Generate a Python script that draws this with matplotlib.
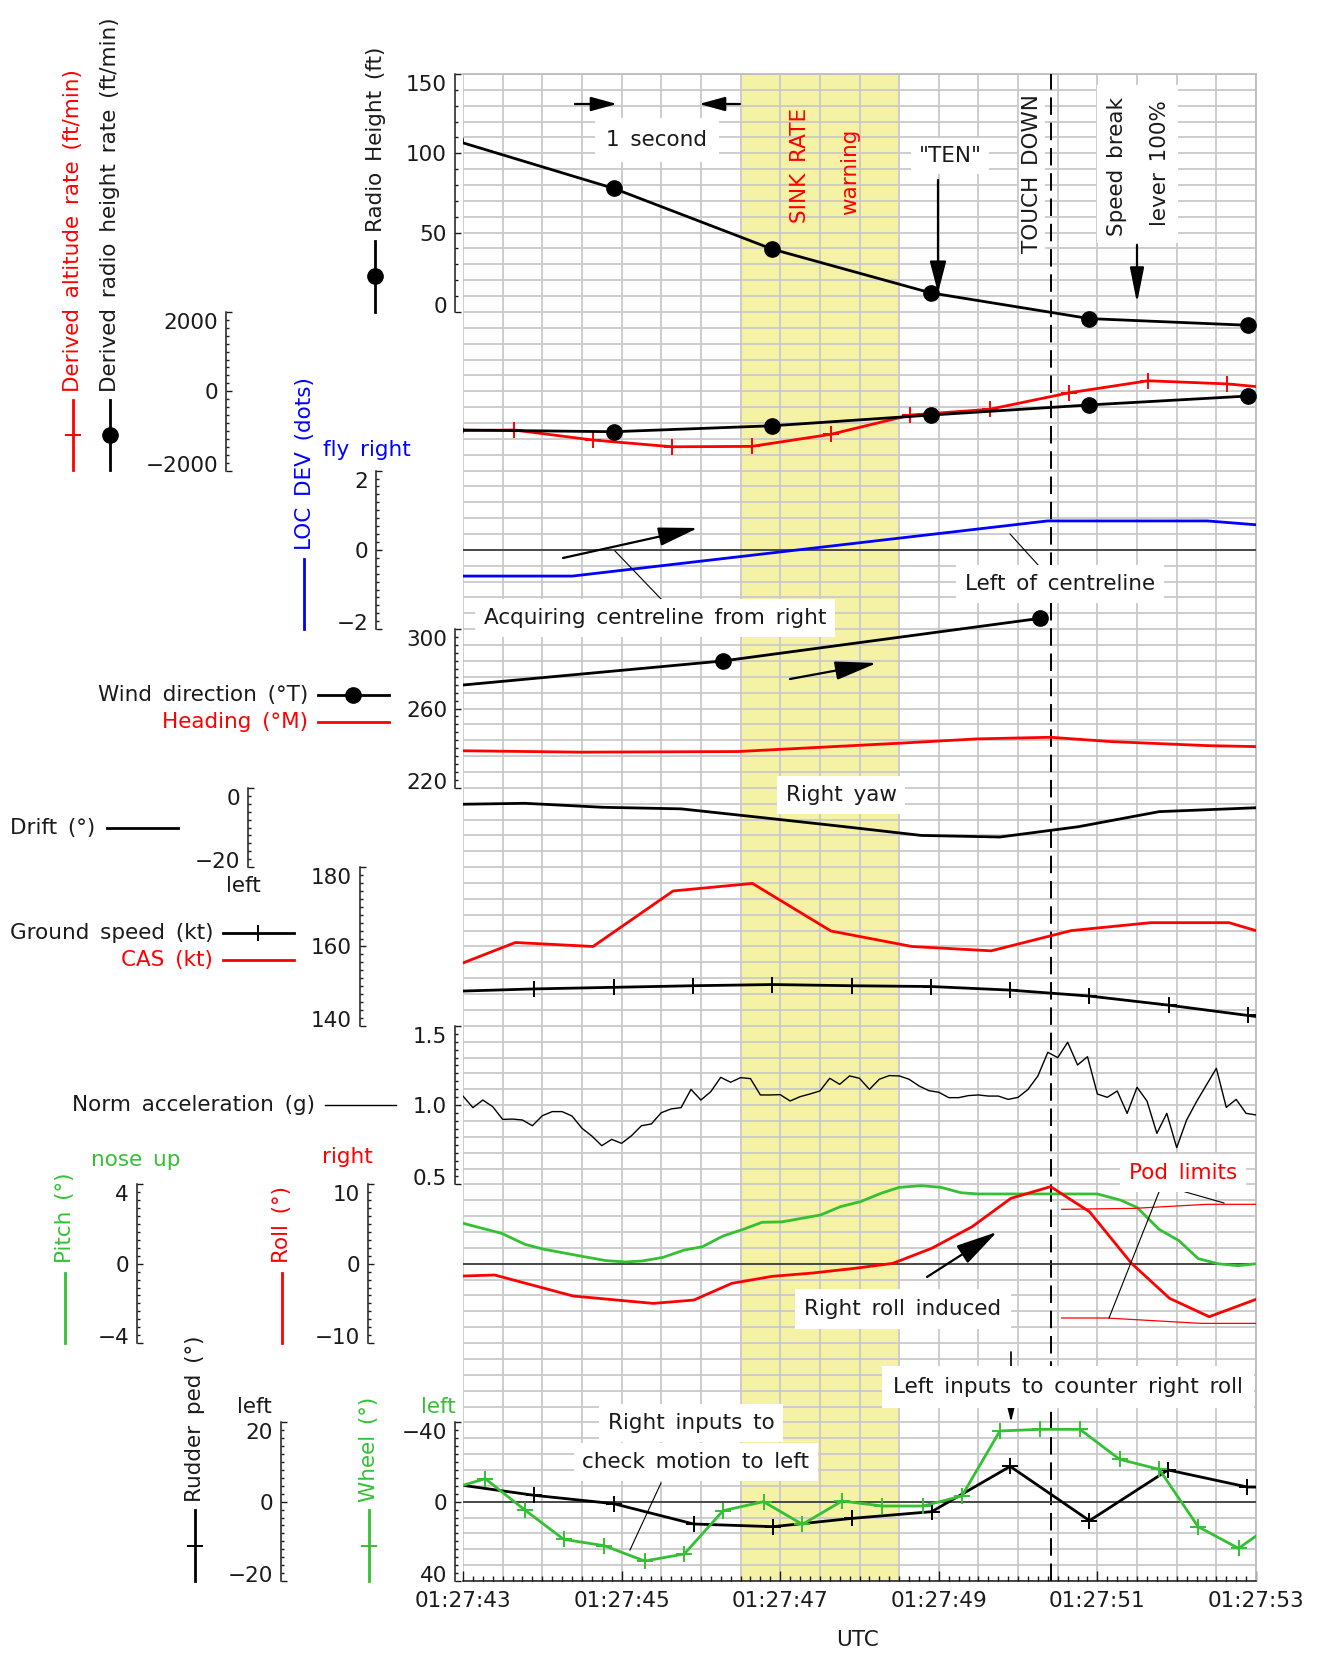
import numpy as np
import matplotlib.pyplot as plt
from matplotlib.patches import Rectangle
from matplotlib.transforms import ScaledTranslation

plt.rcParams['font.family'] = ['DejaVu Sans']

# ---- recorded parameters, time in seconds after 01:27:43 UTC ----
time_labels = ['01:27:43', '01:27:45', '01:27:47', '01:27:49', '01:27:51', '01:27:53']
sink_rate_window = (3.5, 5.5)
touchdown_t = 7.41

radio_t = [-0.1, 1.9, 3.9, 5.9, 7.9, 9.9]
radio_ft = [108.1, 77.9, 39.6, 12.0, -4.2, -8.4]
radio_rate = [-975, -1020, -870, -600, -345, -120]

alt_rate_t = [-0.36, 0.64, 1.64, 2.64, 3.64, 4.64, 5.64, 6.64, 7.64, 8.64, 9.64, 10.64]
alt_rate = [-1000, -976, -1230, -1400, -1390, -1085, -600, -455, -40, 265, 185, 0]

loc_t = [-0.6, 1.38, 7.37, 9.39, 10.4]
loc_dev = [-0.66, -0.66, 0.73, 0.73, 0.57]

wind_t = [-0.72, 3.28, 7.28]
wind_dir = [269.2, 284.0, 305.5]

hdg_t = [0, 1.48, 3.46, 5.50, 6.49, 7.41, 8.18, 9.38, 10.0]
heading = [238.7, 238.0, 238.3, 242.5, 244.7, 245.5, 243.3, 241.3, 240.8]

drift_t = [-0.23, 0.78, 1.76, 2.75, 3.77, 4.77, 5.78, 6.77, 7.76, 8.78, 9.78, 10.78]
drift = [-4.2, -3.9, -4.9, -5.3, -7.5, -9.7, -12.0, -12.4, -9.8, -6.0, -5.2, -4.4]

cas_t = [-0.34, 0.66, 1.64, 2.65, 3.65, 4.64, 5.66, 6.66, 7.67, 8.67, 9.66, 10.66]
cas = [153.2, 161.0, 160.0, 174.0, 175.9, 163.9, 160.0, 158.9, 164.0, 166.0, 166.0, 160.1]

gs_t = [-0.1, 0.9, 1.9, 2.9, 3.9, 4.9, 5.9, 6.9, 7.9, 8.9, 9.9, 10.9]
ground_speed = [148.7, 149.3, 149.7, 150.1, 150.4, 150.1, 149.9, 149.0, 147.5, 145.2, 142.6, 140.0]

# normal acceleration, 8 samples per second from 01:27:43
norm_acc = [1.057, 0.984, 1.032, 0.990, 0.910, 0.912, 0.906, 0.870, 0.933, 0.959,
            0.959, 0.931, 0.854, 0.805, 0.744, 0.784, 0.759, 0.807, 0.870, 0.881,
            0.952, 0.976, 0.984, 1.099, 1.032, 1.085, 1.175, 1.144, 1.173, 1.167,
            1.064, 1.064, 1.066, 1.026, 1.053, 1.070, 1.089, 1.169, 1.131, 1.184,
            1.169, 1.099, 1.163, 1.186, 1.184, 1.163, 1.121, 1.091, 1.081, 1.047,
            1.047, 1.060, 1.064, 1.057, 1.057, 1.036, 1.049, 1.099, 1.184, 1.333,
            1.299, 1.396, 1.253, 1.305, 1.070, 1.049, 1.089, 0.948, 1.112, 1.026,
            0.822, 0.948, 0.732, 0.906, 1.022, 1.127, 1.232, 0.986, 1.036, 0.948, 0.938]
acc_t = np.linspace(0, 10, len(norm_acc))

pitch_t = [0, 0.49, 0.78, 1.02, 1.48, 1.80, 2.05, 2.26, 2.52, 2.79, 3.02, 3.28,
           3.53, 3.77, 4.02, 4.27, 4.51, 4.76, 5.01, 5.29, 5.50, 5.78, 6.03, 6.28,
           6.49, 6.77, 7.41, 8.0, 8.29, 8.50, 8.78, 9.03, 9.27, 9.52, 9.77, 10.0]
pitch = [2.04, 1.53, 0.98, 0.73, 0.39, 0.16, 0.09, 0.14, 0.32, 0.69, 0.86, 1.40,
         1.73, 2.09, 2.11, 2.29, 2.46, 2.88, 3.13, 3.58, 3.85, 3.94, 3.85, 3.58,
         3.52, 3.52, 3.52, 3.52, 3.21, 2.84, 1.73, 1.16, 0.26, 0.0, -0.10, 0.0]

roll_t = [0, 0.40, 1.39, 2.40, 2.91, 3.39, 3.90, 4.41, 4.94, 5.42, 5.91, 6.42,
          6.91, 7.41, 7.90, 8.43, 8.91, 9.41, 10.0]
roll = [-1.55, -1.42, -4.07, -5.0, -4.58, -2.47, -1.59, -1.17, -0.58, 0.05, 1.94, 4.67,
        8.25, 9.72, 6.56, 0.05, -4.36, -6.68, -4.49]

pod_hi_t = [7.55, 8.46, 9.38, 10.0]
pod_hi = [6.86, 6.98, 7.49, 7.49]
pod_lo_t = [7.55, 8.11, 9.31, 10.0]
pod_lo = [-6.84, -6.84, -7.52, -7.52]

rudder_t = [-0.1, 0.90, 1.90, 2.91, 3.91, 4.91, 5.91, 6.90, 7.90, 8.89, 9.89, 10.9]
rudder = [4.4, 1.60, -0.50, -5.63, -6.30, -4.20, -2.52, 8.9, -4.79, 8.0, 3.70, 3.5]

wheel_t = [-0.22, 0.28, 0.78, 1.27, 1.78, 2.29, 2.79, 3.28, 3.79, 4.28, 4.78,
           5.29, 5.80, 6.29, 6.77, 7.28, 7.78, 8.28, 8.78, 9.27, 9.78, 10.28]
wheel = [-5.6, -11.6, 4.19, 18.99, 22.18, 29.91, 26.38, 4.53, 0.0, 11.43, -0.34,
         2.19, 2.19, -2.86, -35.65, -36.49, -36.49, -21.35, -16.31, 12.60, 23.53, 9.4]

# ---- layout (pixels) ----
W, H = 1317, 1653
X0, X1 = 463, 1256
Y0, Y1 = 74, 1581
NGRID = 95
FS = 15.5
RED, GREEN, BLUE, INK = '#ff0000', '#33c133', '#0000ff', '#1a1a1a'
WIDE = '\u2002'   # wide word gaps, plotter style

fig = plt.figure(figsize=(W / 100, H / 100), dpi=100)
area = [X0 / W, 1 - Y1 / H, (X1 - X0) / W, (Y1 - Y0) / H]

# background grid, sink-rate band and touchdown marker
gax = fig.add_axes(area, zorder=0)
gax.set_xlim(0, 10)
gax.set_ylim(0, NGRID)
gax.axvspan(*sink_rate_window, color='#f5f1a5', lw=0, zorder=0)
gax.vlines(np.arange(0, 10.01, 0.5), 0, NGRID, color='#c9c9c9', lw=1.3, zorder=1)
gax.hlines(np.arange(0, NGRID + 1), 0, 10, color='#c9c9c9', lw=1.3, zorder=1)
gax.axvline(touchdown_t, color='k', lw=1.4, ls=(0, (9, 4)), zorder=3)
for side in ('top', 'right'):
    gax.spines[side].set_color('#bdbdbd')
    gax.spines[side].set_linewidth(1.3)
gax.spines['left'].set_visible(False)
gax.spines['bottom'].set_color(INK)
gax.spines['bottom'].set_linewidth(1.1)
gax.set_yticks([])
gax.set_xticks(np.arange(0, 10.01, 2))
gax.set_xticklabels(time_labels)
gax.set_xticks(np.arange(0, 10.001, 0.125), minor=True)
gax.tick_params(axis='x', which='both', direction='in', color=INK, width=1.0,
                labelsize=FS, labelcolor=INK, pad=7)
gax.tick_params(axis='x', which='major', length=7)
gax.tick_params(axis='x', which='minor', length=3.5)


def data_axes(v_a, g_a, v_b, g_b, spine_x, majors, minors, fmt, z):
    ax = fig.add_axes(area, zorder=z)
    ax.patch.set_visible(False)
    k = (v_b - v_a) / (g_b - g_a)
    ax.set_xlim(0, 10)
    ax.set_ylim(v_a - g_a * k, v_a + (NGRID - g_a) * k)
    for side in ('top', 'right', 'bottom'):
        ax.spines[side].set_visible(False)
    xa = (spine_x - X0) / (X1 - X0)
    sp = ax.spines['left']
    sp.set_position(('axes', xa))
    sp.set_bounds(min(v_a, v_b), max(v_a, v_b))
    sp.set_linewidth(1.1)
    sp.set_color(INK)
    ax.set_xticks([])
    ax.set_yticks(majors)
    ax.set_yticks(minors, minor=True)
    ax.tick_params(axis='y', which='both', direction='in', color=INK, width=1.0,
                   labelleft=False)
    ax.tick_params(axis='y', which='major', length=4.5)
    ax.tick_params(axis='y', which='minor', length=2.3)
    # scale numbers: end values tucked inside the bracket
    levels = [g_a + (v - v_a) / k for v in majors]
    for v, g in zip(majors, levels):
        dy = -9 if g == max(levels) else (7 if g == min(levels) else 0)
        off = ScaledTranslation(-8 / 100, dy / 100, fig.dpi_scale_trans)
        ax.text(xa, v, fmt.format(v + 0.0).replace('-', '\u2212'),
                transform=ax.get_yaxis_transform() + off, ha='right',
                va='center_baseline', fontsize=FS, color=INK)
    return ax


LW = 2.0
DOT = dict(marker='o', ms=11, mfc='k', mec='k')
CROSS = dict(marker='+', ms=12, mew=1.4)

ax = data_axes(0, 80, 150, 95, 455, [0, 50, 100, 150], np.arange(0, 151, 10), '{:.0f}', 2)
ax.plot(radio_t, radio_ft, color='k', lw=LW, **DOT)

ax = data_axes(-2000, 70, 2000, 80, 226, [-2000, 0, 2000], np.arange(-2000, 2001, 200), '{:.0f}', 3)
ax.plot(alt_rate_t, alt_rate, color=RED, lw=LW, **CROSS)
ax.plot(radio_t, radio_rate, color='k', lw=LW, **DOT)

ax = data_axes(-2, 60, 2, 70, 376, [-2, 0, 2], np.arange(-2, 2.01, 0.2), '{:.0f}', 4)
ax.axhline(0, color='#333333', lw=1.2)
ax.plot(loc_t, loc_dev, color=BLUE, lw=LW)

ax = data_axes(220, 50, 300, 60, 455, [220, 260, 300], np.arange(220, 301, 4), '{:.0f}', 5)
ax.plot(hdg_t, heading, color=RED, lw=LW)
ax.plot(wind_t, wind_dir, color='k', lw=LW, **DOT)

ax = data_axes(-20, 45, 0, 50, 248, [-20, 0], np.arange(-20, 0.1, 2), '{:.0f}', 6)
ax.plot(drift_t, drift, color='k', lw=LW)

ax = data_axes(140, 35, 180, 45, 360, [140, 160, 180], np.arange(140, 181, 2), '{:.0f}', 7)
ax.plot(cas_t, cas, color=RED, lw=LW)
ax.plot(gs_t, ground_speed, color='k', lw=LW, **CROSS)

ax = data_axes(0.5, 25, 1.5, 35, 455, [0.5, 1.0, 1.5], np.arange(0.5, 1.501, 0.05), '{:.1f}', 8)
ax.plot(acc_t, norm_acc, color='k', lw=1.0)

ax = data_axes(-4, 15, 4, 25, 137, [-4, 0, 4], np.arange(-4, 4.01, 0.4), '{:.0f}', 9)
ax.axhline(0, color='#333333', lw=1.2)
ax.plot(pitch_t, pitch, color=GREEN, lw=LW)

ax = data_axes(-10, 15, 10, 25, 368, [-10, 0, 10], np.arange(-10, 10.1, 1), '{:.0f}', 10)
ax.plot(pod_hi_t, pod_hi, color=RED, lw=0.9)
ax.plot(pod_lo_t, pod_lo, color=RED, lw=0.9)
ax.plot(roll_t, roll, color=RED, lw=LW)

ax = data_axes(-20, 0, 20, 10, 281, [-20, 0, 20], np.arange(-20, 20.1, 2), '{:.0f}', 11)
ax.axhline(0, color='#333333', lw=1.2)
ax.plot(rudder_t, rudder, color='k', lw=LW, **CROSS)

ax = data_axes(40, 0, -40, 10, 455, [-40, 0, 40], np.arange(-40, 40.1, 4), '{:.0f}', 12)
ax.plot(wheel_t, wheel, color=GREEN, lw=LW, **CROSS)

# ---- labels, legend keys and annotations in pixel space ----
ov = fig.add_axes([0, 0, 1, 1], zorder=20)
ov.set_xlim(0, W)
ov.set_ylim(H, 0)
ov.axis('off')


def label(x, y, s, color=INK, rot=0, ha='center', va='center', box=None, z=4):
    kw = {}
    if box is not None:
        kw['bbox'] = dict(boxstyle=f'square,pad={box}', fc='white', ec='none')
    ov.text(x, y, s.replace(' ', WIDE), color=color, rotation=rot, ha=ha, va=va,
            fontsize=FS, zorder=z, **kw)


def arrow(x0, y0, x1, y1, hl, hw, lw=1.6, z=3):
    ov.annotate('', xy=(x1, y1), xytext=(x0, y0), zorder=z,
                arrowprops=dict(arrowstyle=f'-|>,head_length={hl / 1.389:.2f},head_width={hw / 1.389:.2f}',
                                mutation_scale=1, lw=lw, color='k', shrinkA=0, shrinkB=0))


def leader(x0, y0, x1, y1):
    ov.plot([x0, x1], [y0, y1], color='k', lw=0.8, zorder=3)


# legend keys
ov.plot([375, 375], [241, 312], color='k', lw=LW)
ov.plot(375, 276, **DOT)
ov.plot([73, 73], [400, 470], color=RED, lw=LW)
ov.plot(73, 435, marker='_', ms=12, mew=1.4, color=RED)
ov.plot([110, 110], [400, 470], color='k', lw=LW)
ov.plot(110, 435, **DOT)
ov.plot([304, 304], [559, 629], color=BLUE, lw=LW)
ov.plot([318, 389], [695, 695], color='k', lw=LW)
ov.plot(353, 695, **DOT)
ov.plot([318, 389], [722, 722], color=RED, lw=LW)
ov.plot([107, 178], [828, 828], color='k', lw=LW)
ov.plot([223, 294], [933, 933], color='k', lw=LW)
ov.plot(258, 933, marker='|', ms=12, mew=1.4, color='k')
ov.plot([223, 294], [960, 960], color=RED, lw=LW)
ov.plot([325, 396], [1105, 1105], color='k', lw=1.0)
ov.plot([65, 65], [1273, 1343], color=GREEN, lw=LW)
ov.plot([282, 282], [1273, 1343], color=RED, lw=LW)
ov.plot([195, 195], [1510, 1581], color='k', lw=LW)
ov.plot(195, 1546, marker='_', ms=12, mew=1.4, color='k')
ov.plot([369, 369], [1510, 1581], color=GREEN, lw=LW)
ov.plot(369, 1546, marker='_', ms=12, mew=1.4, color=GREEN)

# scale titles
label(376, 232, 'Radio Height (ft)', rot=90, va='bottom')
label(73, 392, 'Derived altitude rate (ft/min)', color=RED, rot=90, va='bottom')
label(110, 392, 'Derived radio height rate (ft/min)', rot=90, va='bottom')
label(305, 550, 'LOC DEV (dots)', color=BLUE, rot=90, va='bottom')
label(323, 450, 'fly right', color=BLUE, ha='left')
label(308, 695, 'Wind direction (°T)', ha='right')
label(308, 722, 'Heading (°M)', color=RED, ha='right')
label(10, 828, 'Drift (°)', ha='left')
label(243, 886, 'left')
label(213, 933, 'Ground speed (kt)', ha='right')
label(213, 960, 'CAS (kt)', color=RED, ha='right')
label(315, 1105, 'Norm acceleration (g)', ha='right')
label(136, 1160, 'nose up', color=GREEN)
label(65, 1263, 'Pitch (°)', color=GREEN, rot=90, va='bottom')
label(347, 1157, 'right', color=RED)
label(282, 1263, 'Roll (°)', color=RED, rot=90, va='bottom')
label(195, 1502, 'Rudder ped (°)', rot=90, va='bottom')
label(254, 1407, 'left')
label(369, 1502, 'Wheel (°)', color=GREEN, rot=90, va='bottom')
label(438, 1407, 'left', color=GREEN)
label(858, 1640, 'UTC')

# event annotations
arrow(575, 104, 617, 104, 22, 6)
arrow(740, 104, 699, 104, 22, 6)
label(657, 140, '1 second', box=0.55)
label(800, 165, 'SINK RATE', color=RED, rot=90)
label(850, 172, 'warning', color=RED, rot=90)
arrow(938, 180, 938, 293, 27, 7)
label(950, 156, '"TEN"', box=0.35)
label(1032, 174, 'TOUCH DOWN', rot=90, box=0.12)
ov.add_patch(Rectangle((1097, 85), 81, 158, fc='white', ec='none', zorder=3.5))
label(1117, 166, 'Speed break', rot=90)
label(1160, 163, 'lever 100%', rot=90)
arrow(1137, 245, 1137, 303, 30, 6)

arrow(563, 558, 698, 528, 34, 8)
leader(662, 600, 615, 551)
label(655, 618, 'Acquiring centreline from right', box=0.4)
leader(1039, 566, 1010, 534)
label(1060, 584, 'Left of centreline', box=0.4)

arrow(790, 679, 877, 663, 36, 8)
label(841, 795, 'Right yaw', box=0.4)

arrow(927, 1277, 997, 1232, 36, 9)
label(903, 1309, 'Right roll induced', box=0.45)
leader(1168, 1187, 1224, 1203)
leader(1159, 1192, 1109, 1318)
label(1183, 1173, 'Pod limits', color=RED, box=0.4)

arrow(1011, 1352, 1011, 1422, 12, 3, lw=1.2)
label(1068, 1387, 'Left inputs to counter right roll', box=0.5)
leader(661, 1483, 630, 1550)
label(691, 1423, 'Right inputs to', box=0.4)
label(696, 1462, 'check motion to left', box=0.4)

fig.savefig('out.png', dpi=100)
